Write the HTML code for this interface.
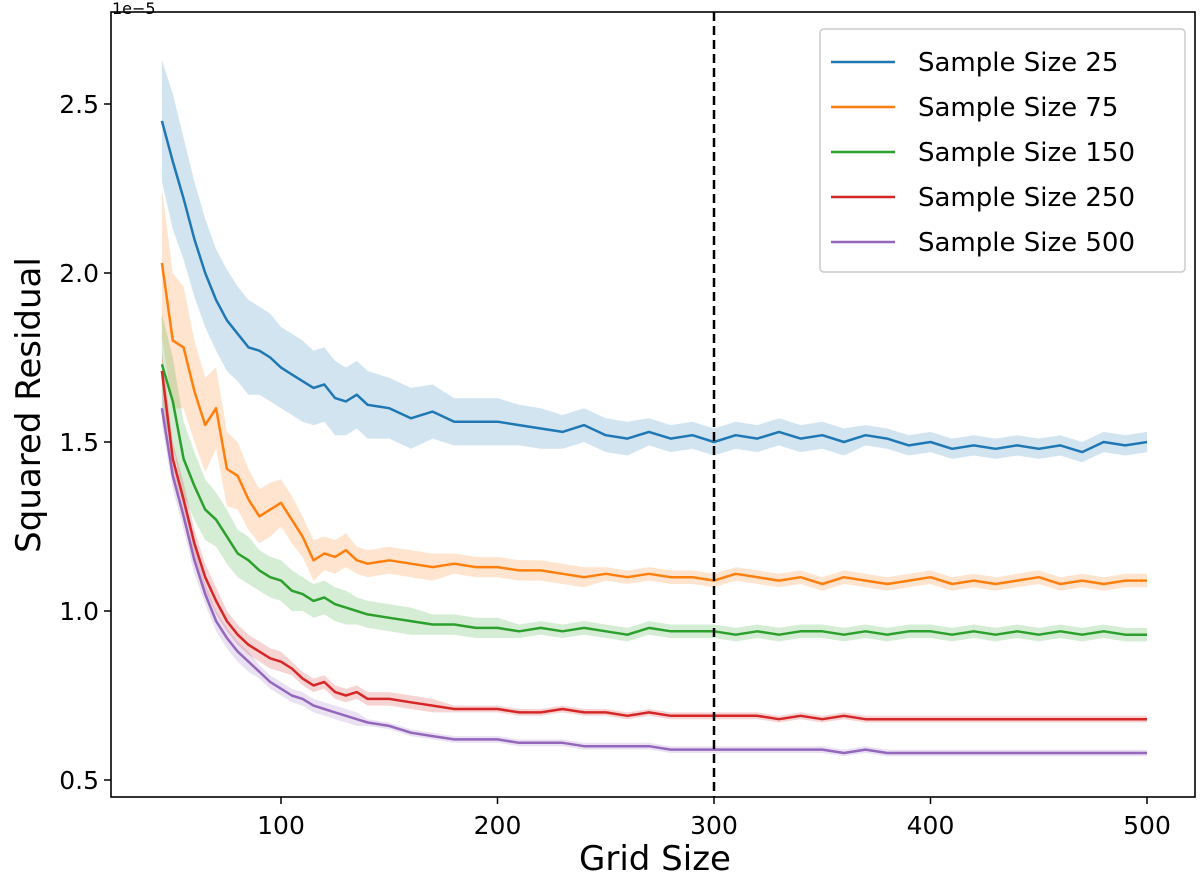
<!DOCTYPE html>
<html><head><meta charset="utf-8"><style>
body{margin:0;background:#fff}
svg{font-family:"DejaVu Sans","Liberation Sans",sans-serif}
</style></head><body>
<svg id="chart" width="1200" height="880" xmlns="http://www.w3.org/2000/svg">
<g id="bands"></g>
<g id="lines"></g>
<g id="axes"></g>
</svg>
<script>
const xs=[45,50,55,60,65,70,75,80,85,90,95,100,105,110,115,120,125,130,135,140,150,160,170,180,190,200,210,220,230,240,250,260,270,280,290,300,310,320,330,340,350,360,370,380,390,400,410,420,430,440,450,460,470,480,490,500];
const seriesNames=["Sample Size 25","Sample Size 75","Sample Size 150","Sample Size 250","Sample Size 500"];
const colors=["#1f77b4","#ff7f0e","#2ca02c","#d62728","#9467bd"];
const s25=[2.45,2.33,2.22,2.10,2.00,1.92,1.86,1.82,1.78,1.77,1.75,1.72,1.70,1.68,1.66,1.67,1.63,1.62,1.64,1.61,1.60,1.57,1.59,1.56,1.56,1.56,1.55,1.54,1.53,1.55,1.52,1.51,1.53,1.51,1.52,1.50,1.52,1.51,1.53,1.51,1.52,1.50,1.52,1.51,1.49,1.50,1.48,1.49,1.48,1.49,1.48,1.49,1.47,1.50,1.49,1.50];
const s75=[2.03,1.80,1.78,1.65,1.55,1.60,1.42,1.40,1.33,1.28,1.30,1.32,1.27,1.22,1.15,1.17,1.16,1.18,1.15,1.14,1.15,1.14,1.13,1.14,1.13,1.13,1.12,1.12,1.11,1.10,1.11,1.10,1.11,1.10,1.10,1.09,1.11,1.10,1.09,1.10,1.08,1.10,1.09,1.08,1.09,1.10,1.08,1.09,1.08,1.09,1.10,1.08,1.09,1.08,1.09,1.09];
const s150=[1.73,1.62,1.45,1.37,1.30,1.27,1.22,1.17,1.15,1.12,1.10,1.09,1.06,1.05,1.03,1.04,1.02,1.01,1.00,0.99,0.98,0.97,0.96,0.96,0.95,0.95,0.94,0.95,0.94,0.95,0.94,0.93,0.95,0.94,0.94,0.94,0.93,0.94,0.93,0.94,0.94,0.93,0.94,0.93,0.94,0.94,0.93,0.94,0.93,0.94,0.93,0.94,0.93,0.94,0.93,0.93];
const s250=[1.71,1.45,1.33,1.20,1.10,1.03,0.97,0.93,0.90,0.88,0.86,0.85,0.83,0.80,0.78,0.79,0.76,0.75,0.76,0.74,0.74,0.73,0.72,0.71,0.71,0.71,0.70,0.70,0.71,0.70,0.70,0.69,0.70,0.69,0.69,0.69,0.69,0.69,0.68,0.69,0.68,0.69,0.68,0.68,0.68,0.68,0.68,0.68,0.68,0.68,0.68,0.68,0.68,0.68,0.68,0.68];
const s500=[1.60,1.40,1.28,1.15,1.05,0.97,0.92,0.88,0.85,0.82,0.79,0.77,0.75,0.74,0.72,0.71,0.70,0.69,0.68,0.67,0.66,0.64,0.63,0.62,0.62,0.62,0.61,0.61,0.61,0.60,0.60,0.60,0.60,0.59,0.59,0.59,0.59,0.59,0.59,0.59,0.59,0.58,0.59,0.58,0.58,0.58,0.58,0.58,0.58,0.58,0.58,0.58,0.58,0.58,0.58,0.58];
const spread25=[0.18,0.2,0.18,0.17,0.16,0.15,0.15,0.14,0.14,0.13,0.13,0.12,0.12,0.12,0.11,0.11,0.11,0.1,0.1,0.1,0.09,0.09,0.08,0.07,0.07,0.07,0.06,0.06,0.05,0.05,0.05,0.05,0.04,0.04,0.04,0.04,0.04,0.04,0.04,0.04,0.04,0.04,0.03,0.03,0.03,0.03,0.03,0.03,0.03,0.03,0.03,0.03,0.03,0.03,0.03,0.03];
const spread75=[0.22,0.2,0.18,0.15,0.14,0.12,0.11,0.1,0.09,0.08,0.08,0.07,0.07,0.06,0.06,0.05,0.05,0.05,0.04,0.04,0.04,0.04,0.04,0.03,0.03,0.03,0.03,0.03,0.03,0.03,0.02,0.02,0.02,0.02,0.02,0.02,0.02,0.02,0.02,0.02,0.02,0.02,0.02,0.02,0.02,0.02,0.02,0.02,0.02,0.02,0.02,0.02,0.02,0.02,0.02,0.02];
const spread150=[0.15,0.13,0.11,0.1,0.09,0.08,0.08,0.07,0.07,0.06,0.06,0.06,0.06,0.05,0.05,0.05,0.05,0.05,0.04,0.04,0.04,0.04,0.03,0.03,0.03,0.03,0.02,0.02,0.02,0.02,0.02,0.02,0.02,0.02,0.02,0.02,0.02,0.02,0.02,0.02,0.02,0.02,0.02,0.02,0.02,0.02,0.02,0.02,0.02,0.02,0.02,0.02,0.02,0.02,0.02,0.02];
const spread250=[0.06,0.05,0.05,0.04,0.04,0.04,0.03,0.03,0.03,0.03,0.03,0.03,0.02,0.02,0.02,0.02,0.02,0.02,0.02,0.02,0.02,0.02,0.02,0.01,0.01,0.01,0.01,0.01,0.01,0.01,0.01,0.01,0.01,0.01,0.01,0.01,0.01,0.01,0.01,0.01,0.01,0.01,0.01,0.01,0.01,0.01,0.01,0.01,0.01,0.01,0.01,0.01,0.01,0.01,0.01,0.01];
const spread500=[0.05,0.04,0.04,0.04,0.03,0.03,0.03,0.03,0.03,0.02,0.02,0.02,0.02,0.02,0.02,0.02,0.02,0.02,0.02,0.01,0.01,0.01,0.01,0.01,0.01,0.01,0.01,0.01,0.01,0.01,0.01,0.01,0.01,0.01,0.01,0.01,0.01,0.01,0.01,0.01,0.01,0.01,0.01,0.01,0.01,0.01,0.01,0.01,0.01,0.01,0.01,0.01,0.01,0.01,0.01,0.01];
const xTicks=[100,200,300,400,500];
const yTicks=[0.5,1.0,1.5,2.0,2.5];
const yTickLabels=["0.5","1.0","1.5","2.0","2.5"];
const vline=300;

const NS="http://www.w3.org/2000/svg";
const X0=111,X1=1195,Y0=12,Y1=797;
function sx(v){return 281+(v-100)*2.165;}
function sy(v){return 780-(v-0.5)*338;}
function mk(tag,attrs,parent){const e=document.createElementNS(NS,tag);for(const k in attrs)e.setAttribute(k,attrs[k]);parent.appendChild(e);return e;}
const bands=document.getElementById('bands'),lines=document.getElementById('lines'),axes=document.getElementById('axes');
const allS=[s25,s75,s150,s250,s500],allSp=[spread25,spread75,spread150,spread250,spread500];
const keys=["25","75","150","250","500"];
allS.forEach((s,i)=>{
  let up=xs.map((x,j)=>sx(x).toFixed(1)+","+sy(s[j]+allSp[i][j]).toFixed(1));
  let dn=xs.map((x,j)=>sx(x).toFixed(1)+","+sy(s[j]-allSp[i][j]).toFixed(1)).reverse();
  const b=mk('polygon',{points:up.concat(dn).join(' '),fill:colors[i],'fill-opacity':0.2,stroke:'none'},bands);
  
  
  const l=mk('polyline',{points:xs.map((x,j)=>sx(x).toFixed(1)+","+sy(s[j]).toFixed(1)).join(' '),fill:'none',stroke:colors[i],'stroke-width':2.5,'stroke-linejoin':'round'},lines);
  
  
});
const vl=mk('line',{x1:sx(vline),x2:sx(vline),y1:Y0,y2:Y1,stroke:'#000','stroke-width':2.5,'stroke-dasharray':'9,5'},axes);


const fr=mk('rect',{x:X0,y:Y0,width:X1-X0,height:Y1-Y0,fill:'none',stroke:'#000','stroke-width':1.6},axes);


xTicks.forEach(t=>{
  mk('line',{x1:sx(t),x2:sx(t),y1:Y1,y2:Y1+7,stroke:'#000','stroke-width':1.5},axes);
  const tx=mk('text',{x:sx(t),y:Y1+37,'text-anchor':'middle','font-size':25},axes);tx.textContent=t;
  
  
});
yTicks.forEach((t,i)=>{
  mk('line',{x1:X0-7,x2:X0,y1:sy(t),y2:sy(t),stroke:'#000','stroke-width':1.5},axes);
  const tx=mk('text',{x:X0-12,y:sy(t)+9,'text-anchor':'end','font-size':25},axes);tx.textContent=yTickLabels[i];
  
  
});
</script>
<script>
(function(){
const svg=document.getElementById('chart');const NS="http://www.w3.org/2000/svg";
function t(x,y,s,txt,extra,name){const e=document.createElementNS(NS,'text');e.setAttribute('x',x);e.setAttribute('y',y);e.setAttribute('font-size',s);for(const k in extra)e.setAttribute(k,extra[k]);e.textContent=txt;


svg.appendChild(e);return e;}
t(112,14,16,"1e\u22125",{},'y-offset-label');
t(655,870,34,"Grid Size",{'text-anchor':'middle'},'x-axis-title');
t(40,405,34,"Squared Residual",{'text-anchor':'middle',transform:'rotate(-90 40 405)'},'y-axis-title');
const g=document.createElementNS(NS,'g');


svg.appendChild(g);
const r=document.createElementNS(NS,'rect');
r.setAttribute('x',820);r.setAttribute('y',29);r.setAttribute('width',365);r.setAttribute('height',243);r.setAttribute('rx',4);
r.setAttribute('fill','#fff');r.setAttribute('fill-opacity',0.85);r.setAttribute('stroke','#ccc');r.setAttribute('stroke-width',1.5);g.appendChild(r);
seriesNames.forEach((n,i)=>{
  const y=62+i*45;
  const l=document.createElementNS(NS,'line');
  l.setAttribute('x1',831);l.setAttribute('x2',895);l.setAttribute('y1',y);l.setAttribute('y2',y);
  l.setAttribute('stroke',colors[i]);l.setAttribute('stroke-width',2.5);g.appendChild(l);
  const e=document.createElementNS(NS,'text');e.setAttribute('x',918);e.setAttribute('y',y+9);e.setAttribute('font-size',26);e.textContent=n;
  
  
  g.appendChild(e);
});
})();
</script>
</body></html>
